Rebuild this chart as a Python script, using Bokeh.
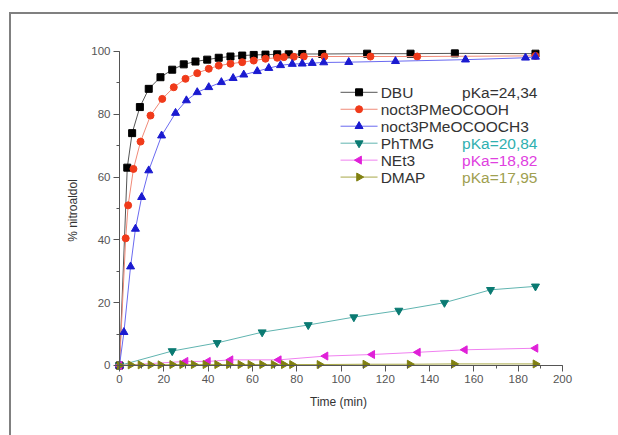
from bokeh.plotting import figure
from bokeh.models import Range1d, SingleIntervalTicker, LinearAxis, Label
from bokeh.embed import file_html
from bokeh.resources import INLINE
import math

# ---- data ----
dbu_t = [0, 3.5, 5.7, 9.2, 13.2, 18.5, 23.8, 29.0, 34.3, 39.6, 44.8, 50.1, 55.4, 60.6, 65.9, 71.2, 76.4, 82.5, 91.5, 111.8, 131.4, 151.4, 187.8]
dbu_y = [0, 63.0, 74.0, 82.3, 88.1, 91.8, 94.2, 95.9, 96.8, 97.4, 98.0, 98.4, 98.7, 98.9, 99.0, 99.1, 99.1, 99.2, 99.2, 99.3, 99.3, 99.4, 99.3]

cooh_t = [0, 2.8, 3.9, 6.3, 9.5, 14.0, 19.3, 24.5, 29.8, 35.1, 40.3, 44.8, 50.1, 55.4, 60.6, 65.9, 71.2, 74.2, 78.7, 83.2, 92.5, 113.3, 134.4, 187.8]
cooh_y = [0, 40.5, 51.0, 62.6, 71.3, 79.6, 84.9, 88.6, 91.3, 93.1, 94.5, 95.5, 96.1, 96.6, 97.1, 97.7, 98.0, 98.2, 98.3, 98.4, 98.4, 98.4, 98.4, 98.6]

cooch3_t = [0, 2.0, 5.0, 7.2, 10.0, 13.2, 19.0, 25.3, 30.2, 35.1, 40.3, 46.0, 51.3, 56.1, 62.2, 67.4, 72.7, 78.0, 82.5, 87.0, 92.2, 103.5, 124.6, 156.2, 183.3, 187.8]
cooch3_y = [0, 10.6, 31.5, 43.5, 53.6, 62.1, 73.2, 80.4, 84.4, 87.0, 88.6, 90.2, 91.5, 92.6, 93.7, 94.7, 95.6, 96.0, 96.1, 96.3, 96.5, 96.6, 96.9, 97.4, 98.0, 98.3]

phtmg_t = [0, 23.8, 44.1, 64.4, 85.2, 105.8, 126.1, 146.7, 167.5, 187.8]
phtmg_y = [0, 4.6, 7.2, 10.6, 12.9, 15.4, 17.5, 20.0, 24.1, 25.2]

net3_t = [0, 29.8, 39.9, 50.1, 71.9, 93.0, 114.1, 134.7, 155.9, 187.8]
net3_y = [0, 1.3, 1.3, 1.8, 1.8, 3.0, 3.5, 4.2, 5.0, 5.5]

dmap_t = [0, 5.0, 9.5, 14.0, 18.5, 23.8, 28.3, 33.5, 38.8, 44.1, 49.4, 54.6, 59.1, 64.4, 69.6, 74.2, 77.9, 90.3, 111.0, 131.0, 151.0, 187.8]
dmap_y = [0, 0.2, 0.2, 0.2, 0.2, 0.3, 0.3, 0.3, 0.3, 0.3, 0.3, 0.3, 0.3, 0.3, 0.3, 0.3, 0.3, 0.3, 0.4, 0.4, 0.5, 0.5]

names = ["DBU", "noct3PMeOCOOH", "noct3PMeOCOOCH3", "PhTMG", "NEt3", "DMAP"]
pka_labels = ["pKa=24,34", "", "", "pKa=20,84", "pKa=18,82", "pKa=17,95"]

x_ticks_interval = 20
y_ticks_interval = 20

FONT = "Liberation Sans"
AXC = "#555555"

p = figure(width=618, height=435, output_backend="svg", toolbar_location=None,
           x_range=Range1d(-3.16, 200.9), y_range=Range1d(-2.23, 100.95),
           min_border_left=112, min_border_right=54, min_border_top=48, min_border_bottom=63)
p.styles = {
    "position": "fixed", "top": "0px", "left": "0px",
    "background": "linear-gradient(#808080,#808080) 9px 12px / 2px 423px no-repeat, "
                  "linear-gradient(#808080,#808080) 9px 12px / 609px 2px no-repeat, white"
}
p.outline_line_color = None
p.xgrid.visible = False
p.ygrid.visible = False
p.background_fill_color = "white"
p.border_fill_alpha = 0

# built-in axes: only tick labels and titles, at the frame edges
for ax, iv in ((p.xaxis[0], x_ticks_interval), (p.yaxis[0], y_ticks_interval)):
    ax.ticker = SingleIntervalTicker(interval=iv, num_minor_ticks=0)
    ax.axis_line_color = None
    ax.major_tick_line_color = None
    ax.minor_tick_line_color = None
    ax.major_tick_out = 0
    ax.major_tick_in = 0
    ax.minor_tick_out = 0
    ax.major_label_text_font = FONT
    ax.major_label_text_font_size = "11.5px"
    ax.major_label_text_color = AXC
    ax.axis_label_text_font = FONT
    ax.axis_label_text_font_size = "12px"
    ax.axis_label_text_font_style = "normal"
    ax.axis_label_text_color = "#333333"
    ax.major_label_standoff = 2
p.xaxis.axis_label = "Time (min)"
p.yaxis.axis_label = "% nitroaldol"
p.xaxis.axis_label_standoff = 9
p.yaxis.axis_label_standoff = 8
p.xaxis.bounds = (0, 200)
p.yaxis.bounds = (0, 100)

# axis lines and ticks crossing at (0, 0)
for side, iv, bnd in (("below", x_ticks_interval, (0, 200)), ("left", y_ticks_interval, (0, 100))):
    a = LinearAxis(ticker=SingleIntervalTicker(interval=iv, num_minor_ticks=2),
                   fixed_location=0, bounds=bnd,
                   axis_line_color=AXC, major_tick_line_color=AXC, minor_tick_line_color=AXC,
                   major_tick_out=6, major_tick_in=0, minor_tick_out=3, minor_tick_in=0,
                   major_label_text_alpha=0, major_label_text_font_size="1px")
    p.add_layout(a, side)

series = [
    (dbu_t, dbu_y, "square", 0, "#000000", "#555555", 7),
    (cooh_t, cooh_y, "circle", 0, "#f03a1a", "#f08a78", 7),
    (cooch3_t, cooch3_y, "triangle", 0, "#1a1ad0", "#6a6af0", 8),
    (phtmg_t, phtmg_y, "inverted_triangle", 0, "#0a7a72", "#60b4b0", 8),
    (net3_t, net3_y, "triangle", math.pi / 2, "#e020d8", "#f080f0", 8),
    (dmap_t, dmap_y, "triangle", -math.pi / 2, "#808010", "#a8a848", 8),
]

for t, y, marker, ang, mc, lc, sz in series:
    p.line(t, y, line_color=lc, line_width=1)
    p.scatter(t, y, marker=marker, angle=ang, size=sz, fill_color=mc, line_color=mc)

# manual legend (layout positions in data units of the frame)
LEG_X0, LEG_X1, LEG_TX = 99.8, 116.5, 117.9
LEG_ROW_Y = [87.0, 81.6, 76.2, 70.8, 65.4, 60.0]
PKA_X = 188.7
pka_colors = ["#333333", None, None, "#30b0b0", "#e040e0", "#a0a050"]
for name, pk, pkc, ry, (t, y, marker, ang, mc, lc, sz) in zip(names, pka_labels, pka_colors, LEG_ROW_Y, series):
    p.line([LEG_X0, LEG_X1], [ry, ry], line_color=lc, line_width=1)
    p.scatter([(LEG_X0 + LEG_X1) / 2], [ry], marker=marker, angle=ang, size=sz, fill_color=mc, line_color=mc)
    p.add_layout(Label(x=LEG_TX, y=ry, text=name, text_align="left", text_baseline="middle",
                       text_font=FONT, text_font_size="15.5px", text_color="#333333"))
    if pk:
        p.add_layout(Label(x=PKA_X, y=ry, text=pk, text_align="right", text_baseline="middle",
                           text_font=FONT, text_font_size="15.5px", text_color=pkc))

open("out.html", "w").write(file_html(p, INLINE))
